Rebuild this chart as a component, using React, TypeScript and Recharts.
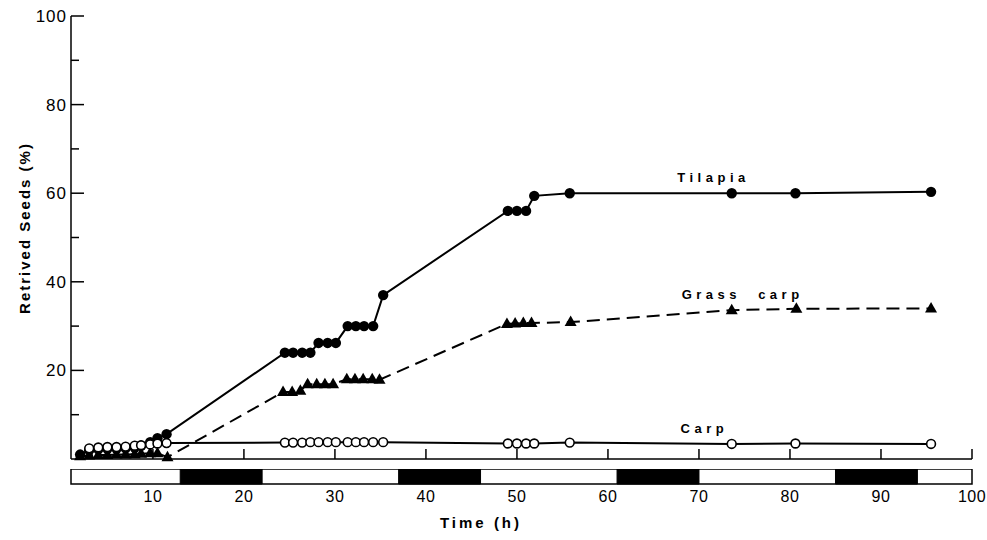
import React from 'react';
import { LineChart, Line, XAxis, YAxis, ReferenceDot, ReferenceArea, ComposedChart, Label } from 'recharts';

// ---- data ----
const tilapiaTime = [2, 3, 4, 5, 6, 7, 8, 8.7, 9.7, 10.5, 11.5, 24.5, 25.4, 26.4, 27.3, 28.2, 29.2, 30.1, 31.4, 32.3, 33.2, 34.2, 35.3, 49.0, 50.0, 51.0, 51.9, 55.8, 73.6, 80.6, 95.5];
const tilapiaPct = [1.0, 2.0, 2.2, 2.3, 2.3, 2.4, 2.6, 3.0, 3.8, 4.7, 5.6, 24.0, 24.0, 24.0, 24.0, 26.2, 26.2, 26.2, 30.0, 30.0, 30.0, 30.0, 37.0, 56.0, 56.0, 56.0, 59.4, 60.0, 60.0, 60.0, 60.3];

const grassTime = [2, 3, 4, 5, 6, 7, 8, 8.7, 9.7, 10.5, 11.6, 24.3, 25.3, 26.2, 27.0, 28.0, 28.9, 29.8, 31.3, 32.2, 33.1, 34.1, 34.9, 48.9, 49.8, 50.7, 51.6, 55.9, 73.6, 80.7, 95.5];
const grassPct = [0.6, 0.8, 0.9, 0.9, 1.0, 1.0, 1.1, 1.2, 1.3, 1.3, 0.4, 15.1, 15.1, 15.4, 16.9, 16.9, 16.9, 16.9, 18.0, 18.0, 18.0, 18.0, 17.9, 30.5, 30.6, 30.7, 30.7, 30.9, 33.6, 33.9, 34.0];

const carpTime = [3, 4, 5, 6, 7, 8, 8.7, 9.7, 10.5, 11.5, 24.5, 25.4, 26.4, 27.3, 28.2, 29.2, 30.1, 31.4, 32.3, 33.2, 34.2, 35.3, 49.0, 50.0, 51.0, 51.9, 55.8, 73.6, 80.6, 95.5];
const carpPct = [2.4, 2.6, 2.7, 2.7, 2.8, 3.0, 3.1, 3.3, 3.5, 3.6, 3.7, 3.7, 3.7, 3.8, 3.8, 3.8, 3.8, 3.8, 3.8, 3.8, 3.8, 3.8, 3.5, 3.5, 3.5, 3.5, 3.7, 3.4, 3.5, 3.4];

const xTicks = [10, 20, 30, 40, 50, 60, 70, 80, 90, 100];
const yTicks = [0, 10, 20, 30, 40, 50, 60, 70, 80, 90, 100];

// light/dark bar: dark periods (h)
const darkStart = [13, 37, 61, 85];
const darkEnd = [22, 46, 70, 94];

const seriesNames = ['Tilapia', 'Grass carp', 'Carp'];

const toRows = (t: number[], v: number[]) => t.map((time, i) => ({ t: time, v: v[i] }));
const tilapiaData = toRows(tilapiaTime, tilapiaPct);
const grassData = toRows(grassTime, grassPct);
const carpData = toRows(carpTime, carpPct);
const barRows = [1, ...xTicks].map((t) => ({ t, v: 0.5 }));

const FONT = '"Liberation Sans", Arial, Helvetica, sans-serif';

const FilledDot = (p: any) => {
  if (p.cx == null || p.cy == null) return <g />;
  return <circle cx={p.cx} cy={p.cy} r={5.2} fill="#000" />;
};
const OpenDot = (p: any) => {
  if (p.cx == null || p.cy == null) return <g />;
  return <circle cx={p.cx} cy={p.cy} r={4.4} fill="#fff" stroke="#000" strokeWidth={1.6} />;
};
const TriDot = (p: any) => {
  if (p.cx == null || p.cy == null) return <g />;
  const { cx, cy } = p;
  return <polygon points={`${cx},${cy - 6.5} ${cx + 6},${cy + 4} ${cx - 6},${cy + 4}`} fill="#000" />;
};

const YTick = (props: any) => {
  const { x, y, payload } = props;
  const v = payload.value;
  if (v === 0) return <g />;
  const major = v % 20 === 0;
  return (
    <g>
      <line x1={x} y1={y} x2={x + (major ? 13 : 8)} y2={y} stroke="#000" strokeWidth={1.5} />
      {major && (
        <text x={x - 4} y={y + 6} textAnchor="end" fontFamily={FONT} fontSize={17} letterSpacing={1} fill="#000">
          {v}
        </text>
      )}
    </g>
  );
};

const XTickUp = (props: any) => {
  const { x, y } = props;
  return <line x1={x} y1={y} x2={x} y2={y - 10} stroke="#000" strokeWidth={1.5} />;
};

const XTickLabel = (props: any) => {
  const { x, y, payload } = props;
  return (
    <text x={x} y={y + 18} textAnchor="middle" fontFamily={FONT} fontSize={16} letterSpacing={0.5} fill="#000">
      {payload.value}
    </text>
  );
};

const seriesLabel = (text: string) => (props: any) => {
  const vb = props.viewBox || {};
  const cx = (vb.x ?? 0) + (vb.width ?? 0) / 2;
  const cy = (vb.y ?? 0) + (vb.height ?? 0) / 2;
  return (
    <text x={cx} y={cy + 5} textAnchor="middle" fontFamily={FONT} fontSize={13} fontWeight="bold" letterSpacing={4.5} wordSpacing={9} fill="#000">
      {text}
    </text>
  );
};

const yTitle = () => (
  <text
    x={30}
    y={228}
    transform="rotate(-90 30 228)"
    textAnchor="middle"
    fontFamily={FONT}
    fontSize={15}
    fontWeight="bold"
    letterSpacing={2}
    fill="#000"
  >
    Retrived Seeds (%)
  </text>
);

const xTitle = () => (
  <text x={481} y={59} textAnchor="middle" fontFamily={FONT} fontSize={15} fontWeight="bold" letterSpacing={3} fill="#000">
    Time (h)
  </text>
);

export default function App() {
  return (
    <div style={{ position: 'absolute', left: 0, top: 0, width: 987, height: 540, background: '#fff' }}>
      <div style={{ position: 'absolute', left: 0, top: 0 }}>
        <LineChart width={987} height={500} margin={{ top: 16, right: 15, left: 11, bottom: 11 }}>
          <XAxis
            type="number"
            dataKey="t"
            domain={[1, 100]}
            ticks={xTicks}
            interval={0}
            allowDataOverflow
            height={30}
            tickSize={0}
            tickMargin={0}
            tickLine={false}
            tick={<XTickUp />}
            axisLine={{ stroke: '#000', strokeWidth: 1.5 }}
          />
          <YAxis
            type="number"
            domain={[0, 100]}
            ticks={yTicks}
            interval={0}
            width={60}
            tickSize={0}
            tickMargin={0}
            tickLine={false}
            tick={<YTick />}
            axisLine={{ stroke: '#000', strokeWidth: 1.5 }}
          >
            <Label content={yTitle} />
          </YAxis>
          <Line data={tilapiaData} dataKey="v" stroke="#000" strokeWidth={2} dot={<FilledDot />} activeDot={false} isAnimationActive={false} />
          <Line data={grassData} dataKey="v" stroke="#000" strokeWidth={2} strokeDasharray="13 7" dot={<TriDot />} activeDot={false} isAnimationActive={false} />
          <Line data={carpData} dataKey="v" stroke="#000" strokeWidth={2} dot={<OpenDot />} activeDot={false} isAnimationActive={false} />
          <ReferenceDot x={71.6} y={63.6} r={0} fill="none" stroke="none" label={{ content: seriesLabel(seriesNames[0]) }} />
          <ReferenceDot x={74.8} y={37.3} r={0} fill="none" stroke="none" label={{ content: seriesLabel(seriesNames[1]) }} />
          <ReferenceDot x={70.6} y={7.0} r={0} fill="none" stroke="none" label={{ content: seriesLabel(seriesNames[2]) }} />
        </LineChart>
      </div>
      <div style={{ position: 'absolute', left: 0, top: 469 }}>
        <ComposedChart width={987} height={71} data={barRows} margin={{ top: 0, right: 15, left: 71, bottom: 26 }}>
          <XAxis
            type="number"
            dataKey="t"
            domain={[1, 100]}
            ticks={xTicks}
            interval={0}
            height={30}
            tickSize={0}
            tickMargin={0}
            tickLine={false}
            axisLine={false}
            tick={<XTickLabel />}
          >
            <Label content={xTitle} />
          </XAxis>
          <YAxis type="number" domain={[0, 1]} width={0} hide />
          <Line dataKey="v" stroke="none" dot={false} activeDot={false} isAnimationActive={false} />
          <ReferenceArea x1={1} x2={100} y1={0} y2={1} fill="#fff" fillOpacity={1} stroke="#000" strokeWidth={1.5} ifOverflow="visible" />
          {darkStart.map((s, i) => (
            <ReferenceArea key={i} x1={s} x2={darkEnd[i]} y1={0} y2={1} fill="#000" fillOpacity={1} stroke="#000" strokeWidth={1} ifOverflow="visible" />
          ))}
        </ComposedChart>
      </div>
    </div>
  );
}
